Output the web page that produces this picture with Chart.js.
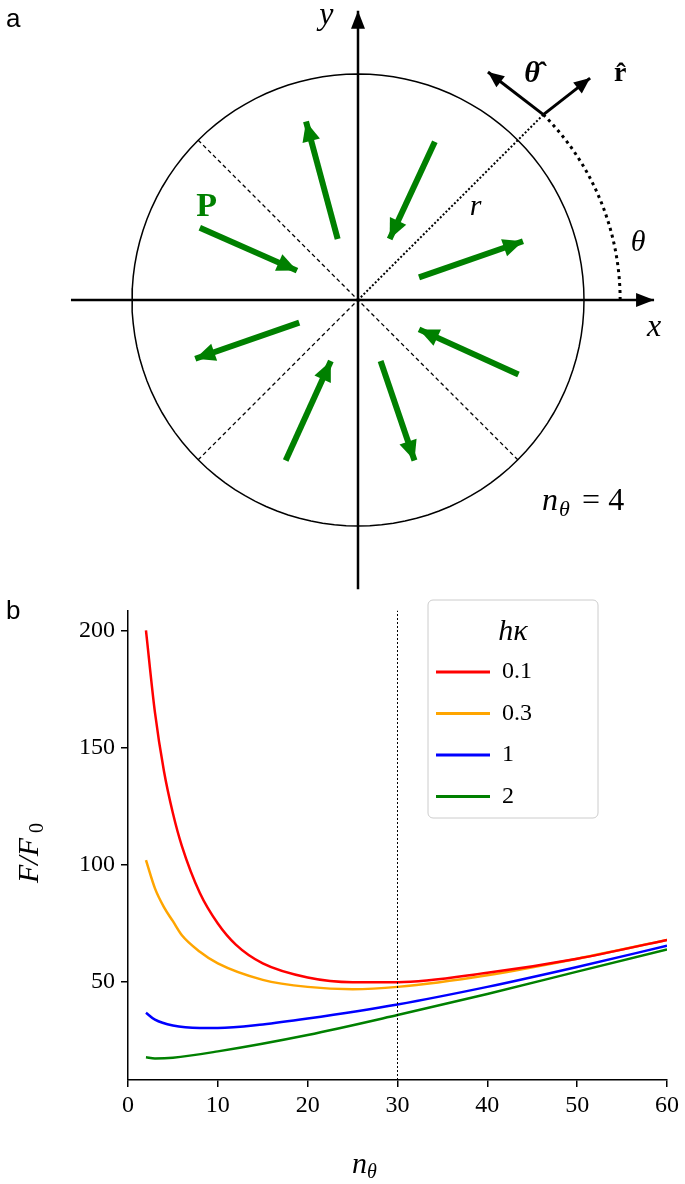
<!DOCTYPE html>
<html>
<head>
<meta charset="utf-8">
<script src="https://cdn.jsdelivr.net/npm/chart.js@4.4.0/dist/chart.umd.min.js"></script>
<style>
  body { margin: 0; background: #fff; }
  #wrapA { position: absolute; left: 0; top: 0; width: 685px; height: 590px; }
  #wrapB { position: absolute; left: 0; top: 590px; width: 685px; height: 594px; }
</style>
</head>
<body>
<div id="wrapA"><canvas id="diagram"></canvas></div>
<div id="wrapB"><canvas id="energy"></canvas></div>
<script>
// ---- panel b data ----
const hkLabels = ['0.1', '0.3', '1', '2'];
const hkColors = ['#ff0000', '#ffa500', '#0000ff', '#008000'];
const nRed = [2, 3, 4, 5, 6, 8, 10, 12, 15, 20, 25, 30, 40, 50, 60];
const fRed = [200, 165, 140, 122, 108, 88, 75, 66, 58, 52, 50, 50, 54, 60, 68];
const nOrange = [2, 3, 4, 5, 6, 8, 10, 15, 20, 25, 30, 40, 50, 60];
const fOrange = [102, 90, 82, 76, 70, 63, 58, 51, 48, 47, 48, 53, 60, 68];
const nBlue = [2, 3, 5, 8, 10, 15, 20, 30, 40, 50, 60];
const fBlue = [37, 34, 31.5, 30.5, 30.5, 32, 34.5, 40.5, 48, 56.5, 65.5];
const nGreen = [2, 3, 5, 10, 20, 30, 40, 50, 60];
const fGreen = [18, 17.5, 17.8, 20.5, 27.5, 36, 45, 54.5, 64];
const xTicks = [0, 10, 20, 30, 40, 50, 60];
const yTicks = [50, 100, 150, 200];
const markerN = 30;

// ---- panel a data (radius of circle = 1) ----
const arcRadius = 1.16;
const greenArrows = [
  [[-0.70, 0.32], [-0.27, 0.13]],
  [[-0.09, 0.27], [-0.23, -0.72 + 1.51]],
  [[0.34, 0.70], [0.14, 0.27]],
  [[0.27, 0.10], [0.73, 0.26]],
  [[-0.26, -0.10], [-0.72, -0.26]],
  [[0.71, -0.33], [0.27, -0.13]],
  [[-0.32, -0.71], [-0.12, -0.27]],
  [[0.10, -0.27], [0.25, -0.71]]
];
const diagramLabels = [
  { t: 'y', x: -0.14, y: 1.26, font: 'italic 32px "Liberation Serif"' },
  { t: 'x', x: 1.31, y: -0.12, font: 'italic 32px "Liberation Serif"' },
  { t: 'r', x: 0.52, y: 0.41, font: 'italic 30px "Liberation Serif"' },
  { t: 'θ', x: 1.24, y: 0.25, font: 'italic 30px "Liberation Serif"' },
  { t: 'P', x: -0.67, y: 0.41, font: 'bold 34px "Liberation Serif"', color: '#008000' },
  { t: 'θ̂', x: 0.77, y: 1.00, font: 'bold italic 30px "Liberation Serif"' },
  { t: 'r̂', x: 1.16, y: 1.00, font: 'bold 28px "Liberation Serif"' },
  { t: 'n', x: 0.85, y: -0.89, font: 'italic 32px "Liberation Serif"' }
];

function pts(xs, ys) { return xs.map((x, i) => ({ x: x, y: ys[i] })); }

// circle and arc sample points
const circlePts = [];
for (let a = 0; a <= 360; a += 3) circlePts.push({ x: Math.cos(a * Math.PI / 180), y: Math.sin(a * Math.PI / 180) });
const arcPts = [];
for (let a = 0; a <= 45; a += 1.5) arcPts.push({ x: arcRadius * Math.cos(a * Math.PI / 180), y: arcRadius * Math.sin(a * Math.PI / 180) });
const d = 0.7071;
const tip = { x: arcRadius * d, y: arcRadius * d };

const arrowHeads = {
  id: 'arrowHeads',
  afterDatasetsDraw(chart) {
    const ctx = chart.ctx, xs = chart.scales.x, ys = chart.scales.y;
    chart.data.datasets.forEach(ds => {
      if (!ds.arrow) return;
      const n = ds.data.length;
      const p1 = ds.data[n - 2], p2 = ds.data[n - 1];
      const x1 = xs.getPixelForValue(p1.x), y1 = ys.getPixelForValue(p1.y);
      const x2 = xs.getPixelForValue(p2.x), y2 = ys.getPixelForValue(p2.y);
      const ang = Math.atan2(y2 - y1, x2 - x1);
      const L = ds.arrow.len, W = ds.arrow.wid;
      ctx.save();
      ctx.fillStyle = ds.borderColor;
      ctx.beginPath();
      ctx.moveTo(x2, y2);
      ctx.lineTo(x2 - L * Math.cos(ang) + W / 2 * Math.sin(ang), y2 - L * Math.sin(ang) - W / 2 * Math.cos(ang));
      ctx.lineTo(x2 - L * Math.cos(ang) - W / 2 * Math.sin(ang), y2 - L * Math.sin(ang) + W / 2 * Math.cos(ang));
      ctx.closePath();
      ctx.fill();
      ctx.restore();
    });
  }
};

const diagramText = {
  id: 'diagramText',
  afterDraw(chart) {
    const ctx = chart.ctx, xs = chart.scales.x, ys = chart.scales.y;
    ctx.save();
    ctx.textAlign = 'center';
    ctx.textBaseline = 'middle';
    diagramLabels.forEach(l => {
      ctx.font = l.font;
      ctx.fillStyle = l.color || '#000';
      ctx.fillText(l.t, xs.getPixelForValue(l.x), ys.getPixelForValue(l.y));
    });
    // subscript and rest of n_θ = 4
    const nx = xs.getPixelForValue(0.85), ny = ys.getPixelForValue(-0.89);
    ctx.textAlign = 'left';
    ctx.font = 'italic 22px "Liberation Serif"';
    ctx.fillText('θ', nx + 9, ny + 9);
    ctx.font = '32px "Liberation Serif"';
    ctx.fillText('= 4', nx + 32, ny);
    ctx.font = '26px "Liberation Sans"';
    ctx.fillText('a', 6, 20);
    ctx.restore();
  }
};

function line(data, opts) {
  return Object.assign({ data: data, showLine: true, pointRadius: 0, borderColor: '#000', borderWidth: 1.5, fill: false }, opts);
}

const diagramSets = [
  line(circlePts, { borderWidth: 1.5 }),
  line([{ x: -1.27, y: 0 }, { x: 1.31, y: 0 }], { borderWidth: 2.5, arrow: { len: 18, wid: 14 } }),
  line([{ x: 0, y: -1.28 }, { x: 0, y: 1.28 }], { borderWidth: 2.5, arrow: { len: 18, wid: 14 } }),
  line([{ x: -d, y: d }, { x: d * 0.0, y: 0 }, { x: d, y: -d }], { borderWidth: 1.3, borderDash: [4, 3] }),
  line([{ x: -d, y: -d }, { x: 0, y: 0 }], { borderWidth: 1.3, borderDash: [4, 3] }),
  line([{ x: 0, y: 0 }, tip], { borderWidth: 2, borderDash: [2, 2] }),
  line(arcPts, { borderWidth: 3, borderDash: [3, 4] }),
  line([tip, { x: 1.027, y: 0.982 }], { borderWidth: 3, arrow: { len: 16, wid: 14 } }),
  line([tip, { x: 0.575, y: 1.009 }], { borderWidth: 3, arrow: { len: 16, wid: 14 } })
];
greenArrows.forEach(a => {
  diagramSets.push(line([{ x: a[0][0], y: a[0][1] }, { x: a[1][0], y: a[1][1] }],
    { borderColor: '#008000', borderWidth: 6, borderCapStyle: 'butt', arrow: { len: 20, wid: 18 } }));
});

new Chart(document.getElementById('diagram'), {
  type: 'scatter',
  data: { datasets: diagramSets },
  options: {
    responsive: true, maintainAspectRatio: false, animation: false,
    layout: { padding: 0 },
    plugins: { legend: { display: false }, tooltip: { enabled: false } },
    scales: {
      x: { type: 'linear', display: false, min: -358 / 226, max: 327 / 226 },
      y: { type: 'linear', display: false, min: -290 / 226, max: 300 / 226 }
    }
  },
  plugins: [arrowHeads, diagramText]
});

// ---- panel b ----
const legendBox = {
  id: 'legendBox',
  afterDraw(chart) {
    const ctx = chart.ctx, xs = chart.scales.x, ys = chart.scales.y;
    ctx.save();
    ctx.fillStyle = 'rgba(255,255,255,0.8)';
    ctx.strokeStyle = '#cccccc';
    ctx.lineWidth = 1;
    ctx.beginPath();
    ctx.roundRect(428, 10, 170, 218, 5);
    ctx.fill();
    ctx.stroke();
    ctx.fillStyle = '#000';
    ctx.textBaseline = 'middle';
    ctx.textAlign = 'center';
    ctx.font = 'italic 30px "Liberation Serif"';
    ctx.fillText('hκ', 513, 42);
    ctx.textAlign = 'left';
    ctx.font = '24px "Liberation Serif"';
    hkLabels.forEach((l, i) => {
      const y = 82 + i * 41.5;
      ctx.strokeStyle = hkColors[i];
      ctx.lineWidth = 3;
      ctx.beginPath();
      ctx.moveTo(436, y);
      ctx.lineTo(490, y);
      ctx.stroke();
      ctx.fillText(l, 502, y);
    });
    // axis titles with subscripts
    ctx.textAlign = 'left';
    ctx.font = 'italic 30px "Liberation Serif"';
    ctx.fillText('n', 352, 575);
    ctx.font = 'italic 20px "Liberation Serif"';
    ctx.fillText('θ', 367, 583);
    ctx.save();
    ctx.translate(30, 245);
    ctx.rotate(-Math.PI / 2);
    ctx.font = 'italic 30px "Liberation Serif"';
    ctx.fillText('F/F', -48, 0);
    ctx.font = '20px "Liberation Serif"';
    ctx.fillText('0', 2, 8);
    ctx.restore();
    ctx.font = '26px "Liberation Sans"';
    ctx.fillText('b', 6, 22);
    ctx.restore();
  }
};

const curves = [pts(nRed, fRed), pts(nOrange, fOrange), pts(nBlue, fBlue), pts(nGreen, fGreen)];
const energySets = curves.map((c, i) => ({
  label: hkLabels[i], data: c, showLine: true, pointRadius: 0, borderColor: hkColors[i],
  borderWidth: 2.5, cubicInterpolationMode: 'monotone', fill: false
}));
energySets.unshift({
  label: 'marker', data: [{ x: markerN, y: 8.3 }, { x: markerN, y: 208.5 }], showLine: true, pointRadius: 0,
  borderColor: '#000', borderWidth: 1, borderDash: [2, 2]
});

const tickFont = { family: 'Liberation Serif', size: 24 };
new Chart(document.getElementById('energy'), {
  type: 'scatter',
  data: { datasets: energySets },
  options: {
    responsive: true, maintainAspectRatio: false, animation: false,
    layout: { padding: { top: 8, right: 18 } },
    plugins: { legend: { display: false }, tooltip: { enabled: false } },
    scales: {
      x: {
        type: 'linear', min: 0, max: 60,
        afterBuildTicks: s => { s.ticks = xTicks.map(v => ({ value: v })); },
        afterFit: s => { s.height = 104; },
        grid: { drawOnChartArea: false, tickLength: 7, color: '#000', lineWidth: 1.5 },
        border: { color: '#000', width: 1.5 },
        ticks: { color: '#000', font: tickFont, maxRotation: 0, padding: 4 }
      },
      y: {
        type: 'linear', min: 8.3, max: 208.5,
        afterBuildTicks: s => { s.ticks = yTicks.map(v => ({ value: v })); },
        afterFit: s => { s.width = 128; },
        grid: { drawOnChartArea: false, tickLength: 7, color: '#000', lineWidth: 1.5 },
        border: { color: '#000', width: 1.5 },
        ticks: { color: '#000', font: tickFont, padding: 6 }
      }
    }
  },
  plugins: [legendBox]
});
</script>
</body>
</html>
